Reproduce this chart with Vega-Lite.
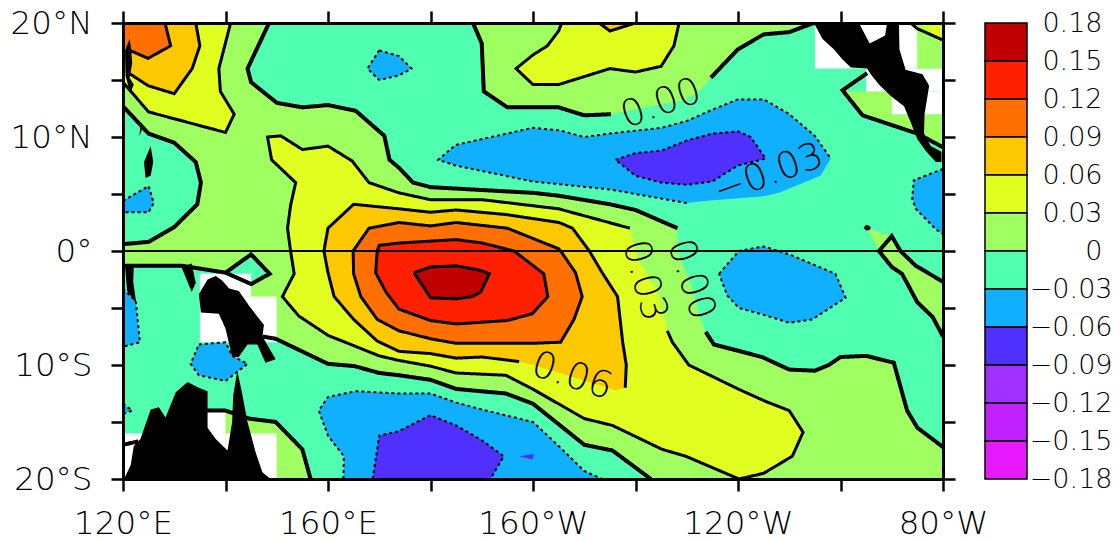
{"$schema":"https://vega.github.io/schema/vega-lite/v6.json","background":"white","padding":{"left":10,"top":7,"right":0,"bottom":0},"bounds":"flush","spacing":42,"config":{"view":{"stroke":null}},
"datasets":{
"regions":[
{"region":"base","band":"-0.03","lon":120,"lat":20},{"region":"base","band":"-0.03","lon":280,"lat":20},{"region":"base","band":"-0.03","lon":280,"lat":-20},{"region":"base","band":"-0.03","lon":120,"lat":-20},
{"region":"bN","band":"-0.06","lon":181.5,"lat":8},{"region":"bN","band":"-0.06","lon":184.9,"lat":9.3},{"region":"bN","band":"-0.06","lon":199.9,"lat":10.8},{"region":"bN","band":"-0.06","lon":205,"lat":10.6},{"region":"bN","band":"-0.06","lon":210,"lat":10},{"region":"bN","band":"-0.06","lon":215,"lat":10.3},{"region":"bN","band":"-0.06","lon":225,"lat":10.8},{"region":"bN","band":"-0.06","lon":230,"lat":11.4},{"region":"bN","band":"-0.06","lon":235,"lat":12.4},{"region":"bN","band":"-0.06","lon":240,"lat":13.3},{"region":"bN","band":"-0.06","lon":245,"lat":13.3},{"region":"bN","band":"-0.06","lon":250,"lat":12},{"region":"bN","band":"-0.06","lon":255,"lat":10.1},{"region":"bN","band":"-0.06","lon":258.1,"lat":8.1},{"region":"bN","band":"-0.06","lon":256.1,"lat":6.6},{"region":"bN","band":"-0.06","lon":248,"lat":5.1},{"region":"bN","band":"-0.06","lon":245,"lat":4.8},{"region":"bN","band":"-0.06","lon":234,"lat":4.4},{"region":"bN","band":"-0.06","lon":230,"lat":4.2},{"region":"bN","band":"-0.06","lon":225,"lat":4.6},{"region":"bN","band":"-0.06","lon":215,"lat":5.4},{"region":"bN","band":"-0.06","lon":199.9,"lat":6.1},{"region":"bN","band":"-0.06","lon":184.9,"lat":7.5},
{"region":"pN","band":"-0.09","lon":216.1,"lat":8},{"region":"pN","band":"-0.09","lon":220,"lat":8.6},{"region":"pN","band":"-0.09","lon":225,"lat":8.8},{"region":"pN","band":"-0.09","lon":230,"lat":9.7},{"region":"pN","band":"-0.09","lon":235,"lat":10.3},{"region":"pN","band":"-0.09","lon":240,"lat":10.5},{"region":"pN","band":"-0.09","lon":242.5,"lat":10},{"region":"pN","band":"-0.09","lon":245.4,"lat":8.1},{"region":"pN","band":"-0.09","lon":240,"lat":7.5},{"region":"pN","band":"-0.09","lon":235,"lat":6.1},{"region":"pN","band":"-0.09","lon":230,"lat":5.8},{"region":"pN","band":"-0.09","lon":225,"lat":6},{"region":"pN","band":"-0.09","lon":220,"lat":6.6},
{"region":"bNW","band":"-0.06","lon":170,"lat":17.6},{"region":"bNW","band":"-0.06","lon":173.85,"lat":17.1},{"region":"bNW","band":"-0.06","lon":176.3,"lat":16},{"region":"bNW","band":"-0.06","lon":173.85,"lat":15.4},{"region":"bNW","band":"-0.06","lon":170,"lat":15},{"region":"bNW","band":"-0.06","lon":167.7,"lat":16},
{"region":"bW","band":"-0.06","lon":120,"lat":4.4},{"region":"bW","band":"-0.06","lon":125,"lat":5.7},{"region":"bW","band":"-0.06","lon":126,"lat":4.2},{"region":"bW","band":"-0.06","lon":125,"lat":3.4},{"region":"bW","band":"-0.06","lon":120,"lat":3.4},
{"region":"bSW","band":"-0.06","lon":120,"lat":-3.3},{"region":"bSW","band":"-0.06","lon":122.5,"lat":-4.4},{"region":"bSW","band":"-0.06","lon":123.3,"lat":-8},{"region":"bSW","band":"-0.06","lon":120,"lat":-8.4},
{"region":"bSW2","band":"-0.06","lon":120,"lat":-13.4},{"region":"bSW2","band":"-0.06","lon":121.8,"lat":-14},{"region":"bSW2","band":"-0.06","lon":120,"lat":-14.3},
{"region":"bS1","band":"-0.06","lon":134.8,"lat":-8.2},{"region":"bS1","band":"-0.06","lon":140,"lat":-8},{"region":"bS1","band":"-0.06","lon":141.3,"lat":-9.2},{"region":"bS1","band":"-0.06","lon":144.3,"lat":-9.9},{"region":"bS1","band":"-0.06","lon":140,"lat":-11.4},{"region":"bS1","band":"-0.06","lon":134.8,"lat":-10.9},{"region":"bS1","band":"-0.06","lon":133.2,"lat":-9.9},
{"region":"bS","band":"-0.06","lon":163,"lat":-20},{"region":"bS","band":"-0.06","lon":163.1,"lat":-18},{"region":"bS","band":"-0.06","lon":160,"lat":-16.2},{"region":"bS","band":"-0.06","lon":158.2,"lat":-14},{"region":"bS","band":"-0.06","lon":160,"lat":-12.8},{"region":"bS","band":"-0.06","lon":165.4,"lat":-12.3},{"region":"bS","band":"-0.06","lon":173.85,"lat":-12.5},{"region":"bS","band":"-0.06","lon":180,"lat":-12.5},{"region":"bS","band":"-0.06","lon":185,"lat":-13.3},{"region":"bS","band":"-0.06","lon":190,"lat":-13.9},{"region":"bS","band":"-0.06","lon":200,"lat":-15},{"region":"bS","band":"-0.06","lon":205,"lat":-17.1},{"region":"bS","band":"-0.06","lon":210,"lat":-19.3},{"region":"bS","band":"-0.06","lon":213.5,"lat":-20},
{"region":"pS","band":"-0.09","lon":168.7,"lat":-20},{"region":"pS","band":"-0.09","lon":170,"lat":-16.2},{"region":"pS","band":"-0.09","lon":173.85,"lat":-15.8},{"region":"pS","band":"-0.09","lon":180,"lat":-14.4},{"region":"pS","band":"-0.09","lon":185,"lat":-15.3},{"region":"pS","band":"-0.09","lon":190,"lat":-16.6},{"region":"pS","band":"-0.09","lon":194.3,"lat":-18},{"region":"pS","band":"-0.09","lon":191.7,"lat":-20},
{"region":"pS2","band":"-0.09","lon":197.3,"lat":-18},{"region":"pS2","band":"-0.09","lon":200.2,"lat":-17.8},{"region":"pS2","band":"-0.09","lon":199.9,"lat":-18.3},
{"region":"bSE","band":"-0.06","lon":236.3,"lat":-2},{"region":"bSE","band":"-0.06","lon":240.2,"lat":0},{"region":"bSE","band":"-0.06","lon":245,"lat":0.4},{"region":"bSE","band":"-0.06","lon":250,"lat":-0.3},{"region":"bSE","band":"-0.06","lon":259,"lat":-2},{"region":"bSE","band":"-0.06","lon":261,"lat":-4.1},{"region":"bSE","band":"-0.06","lon":254.5,"lat":-6},{"region":"bSE","band":"-0.06","lon":250,"lat":-6.3},{"region":"bSE","band":"-0.06","lon":245,"lat":-5.6},{"region":"bSE","band":"-0.06","lon":240.2,"lat":-5},{"region":"bSE","band":"-0.06","lon":237.9,"lat":-3.9},
{"region":"bE","band":"-0.06","lon":280,"lat":7.2},{"region":"bE","band":"-0.06","lon":274.3,"lat":6.2},{"region":"bE","band":"-0.06","lon":274,"lat":4.6},{"region":"bE","band":"-0.06","lon":274.7,"lat":3.7},{"region":"bE","band":"-0.06","lon":278.6,"lat":1.9},{"region":"bE","band":"-0.06","lon":280,"lat":1.5},
{"region":"gMain","band":"0","lon":120,"lat":20},{"region":"gMain","band":"0","lon":148.5,"lat":20},{"region":"gMain","band":"0","lon":144.3,"lat":16},{"region":"gMain","band":"0","lon":145,"lat":14.8},{"region":"gMain","band":"0","lon":150,"lat":13},{"region":"gMain","band":"0","lon":155,"lat":12.6},{"region":"gMain","band":"0","lon":160,"lat":12.8},{"region":"gMain","band":"0","lon":165.4,"lat":12.3},{"region":"gMain","band":"0","lon":171,"lat":10.1},{"region":"gMain","band":"0","lon":172,"lat":8},{"region":"gMain","band":"0","lon":173.85,"lat":7.3},{"region":"gMain","band":"0","lon":176.6,"lat":6},{"region":"gMain","band":"0","lon":180,"lat":5.6},{"region":"gMain","band":"0","lon":200,"lat":5.1},{"region":"gMain","band":"0","lon":205,"lat":4.85},{"region":"gMain","band":"0","lon":215,"lat":4.1},{"region":"gMain","band":"0","lon":220,"lat":3.6},{"region":"gMain","band":"0","lon":228.2,"lat":2},{"region":"gMain","band":"0","lon":228.2,"lat":0},{"region":"gMain","band":"0","lon":231.1,"lat":-3.3},{"region":"gMain","band":"0","lon":232.7,"lat":-6},{"region":"gMain","band":"0","lon":233.7,"lat":-7.1},{"region":"gMain","band":"0","lon":235.3,"lat":-8.2},{"region":"gMain","band":"0","lon":244.7,"lat":-9.3},{"region":"gMain","band":"0","lon":250,"lat":-10.4},{"region":"gMain","band":"0","lon":255,"lat":-10.5},{"region":"gMain","band":"0","lon":257.7,"lat":-10},{"region":"gMain","band":"0","lon":260,"lat":-9.3},{"region":"gMain","band":"0","lon":265,"lat":-9.2},{"region":"gMain","band":"0","lon":270.4,"lat":-9.8},{"region":"gMain","band":"0","lon":273,"lat":-14},{"region":"gMain","band":"0","lon":275,"lat":-15.5},{"region":"gMain","band":"0","lon":280,"lat":-17.2},{"region":"gMain","band":"0","lon":280,"lat":-20},{"region":"gMain","band":"0","lon":223,"lat":-20},{"region":"gMain","band":"0","lon":215.5,"lat":-17.5},{"region":"gMain","band":"0","lon":210,"lat":-17},{"region":"gMain","band":"0","lon":200,"lat":-13.4},{"region":"gMain","band":"0","lon":194.7,"lat":-12.5},{"region":"gMain","band":"0","lon":185,"lat":-12.1},{"region":"gMain","band":"0","lon":180,"lat":-11.3},{"region":"gMain","band":"0","lon":173.85,"lat":-10.9},{"region":"gMain","band":"0","lon":170,"lat":-10.7},{"region":"gMain","band":"0","lon":165.2,"lat":-10.1},{"region":"gMain","band":"0","lon":160,"lat":-9.9},{"region":"gMain","band":"0","lon":149.8,"lat":-7.7},{"region":"gMain","band":"0","lon":147.2,"lat":-7.5},{"region":"gMain","band":"0","lon":144,"lat":-4.5},{"region":"gMain","band":"0","lon":140,"lat":-1.9},{"region":"gMain","band":"0","lon":131.6,"lat":-1.3},{"region":"gMain","band":"0","lon":120,"lat":-1.3},{"region":"gMain","band":"0","lon":120,"lat":0.6},{"region":"gMain","band":"0","lon":125,"lat":0.8},{"region":"gMain","band":"0","lon":130,"lat":2.1},{"region":"gMain","band":"0","lon":134.5,"lat":4.1},{"region":"gMain","band":"0","lon":135.2,"lat":6},{"region":"gMain","band":"0","lon":134.2,"lat":7.8},{"region":"gMain","band":"0","lon":130,"lat":9.5},{"region":"gMain","band":"0","lon":125,"lat":10.3},{"region":"gMain","band":"0","lon":120,"lat":12.7},
{"region":"gN","band":"0","lon":188.3,"lat":20},{"region":"gN","band":"0","lon":190,"lat":18.2},{"region":"gN","band":"0","lon":190.4,"lat":14},{"region":"gN","band":"0","lon":195,"lat":12.6},{"region":"gN","band":"0","lon":205,"lat":12.6},{"region":"gN","band":"0","lon":210,"lat":11.9},{"region":"gN","band":"0","lon":215.2,"lat":12},{"region":"gN","band":"0","lon":229.8,"lat":13.3},{"region":"gN","band":"0","lon":233,"lat":14.2},{"region":"gN","band":"0","lon":234.7,"lat":15.2},{"region":"gN","band":"0","lon":240,"lat":17.7},{"region":"gN","band":"0","lon":245,"lat":19},{"region":"gN","band":"0","lon":250,"lat":19.2},{"region":"gN","band":"0","lon":254.8,"lat":20},
{"region":"gSE","band":"0","lon":267.5,"lat":0},{"region":"gSE","band":"0","lon":265.2,"lat":2},{"region":"gSE","band":"0","lon":270,"lat":1.3},{"region":"gSE","band":"0","lon":271.7,"lat":0},{"region":"gSE","band":"0","lon":274.7,"lat":-1.3},{"region":"gSE","band":"0","lon":280,"lat":-2.7},{"region":"gSE","band":"0","lon":280,"lat":-7.5},{"region":"gSE","band":"0","lon":278,"lat":-5.8},{"region":"gSE","band":"0","lon":275,"lat":-4.5},{"region":"gSE","band":"0","lon":272,"lat":-2},{"region":"gSE","band":"0","lon":270,"lat":-1.4},
{"region":"gSW","band":"0","lon":136.4,"lat":-14},{"region":"gSW","band":"0","lon":140,"lat":-14},{"region":"gSW","band":"0","lon":144.6,"lat":-14.7},{"region":"gSW","band":"0","lon":149.8,"lat":-15},{"region":"gSW","band":"0","lon":155,"lat":-17.4},{"region":"gSW","band":"0","lon":156.6,"lat":-20},{"region":"gSW","band":"0","lon":136,"lat":-20},
{"region":"gMid","band":"0","lon":261,"lat":14},{"region":"gMid","band":"0","lon":270,"lat":14},{"region":"gMid","band":"0","lon":270,"lat":12},{"region":"gMid","band":"0","lon":275,"lat":12},{"region":"gMid","band":"0","lon":275,"lat":10.1},{"region":"gMid","band":"0","lon":264.3,"lat":11.9},{"region":"gMid","band":"0","lon":260.4,"lat":14.1},
{"region":"gMid2","band":"0","lon":276,"lat":12},{"region":"gMid2","band":"0","lon":280,"lat":12},{"region":"gMid2","band":"0","lon":280,"lat":9.1},{"region":"gMid2","band":"0","lon":275,"lat":10.3},
{"region":"teal","band":"-0.03","lon":140,"lat":-1.9},{"region":"teal","band":"-0.03","lon":145,"lat":-0.3},{"region":"teal","band":"-0.03","lon":148.6,"lat":-2},{"region":"teal","band":"-0.03","lon":145,"lat":-2.9},
{"region":"yNW","band":"0.03","lon":141,"lat":20},{"region":"yNW","band":"0.03","lon":138.7,"lat":16},{"region":"yNW","band":"0.03","lon":139,"lat":14},{"region":"yNW","band":"0.03","lon":141.7,"lat":12},{"region":"yNW","band":"0.03","lon":140,"lat":10.4},{"region":"yNW","band":"0.03","lon":125,"lat":12.2},{"region":"yNW","band":"0.03","lon":120,"lat":14.8},{"region":"yNW","band":"0.03","lon":120,"lat":20},
{"region":"yN","band":"0.03","lon":228.5,"lat":20},{"region":"yN","band":"0.03","lon":227.5,"lat":18},{"region":"yN","band":"0.03","lon":225,"lat":16.2},{"region":"yN","band":"0.03","lon":220,"lat":15.7},{"region":"yN","band":"0.03","lon":215,"lat":16},{"region":"yN","band":"0.03","lon":205,"lat":14.6},{"region":"yN","band":"0.03","lon":200,"lat":14.6},{"region":"yN","band":"0.03","lon":196.7,"lat":16},{"region":"yN","band":"0.03","lon":200,"lat":17.2},{"region":"yN","band":"0.03","lon":202.8,"lat":18},{"region":"yN","band":"0.03","lon":205,"lat":19.3},{"region":"yN","band":"0.03","lon":205.6,"lat":20},
{"region":"yC","band":"0.03","lon":148.2,"lat":10},{"region":"yC","band":"0.03","lon":150.8,"lat":10.1},{"region":"yC","band":"0.03","lon":155,"lat":8.9},{"region":"yC","band":"0.03","lon":160,"lat":9.2},{"region":"yC","band":"0.03","lon":164.7,"lat":7.9},{"region":"yC","band":"0.03","lon":168,"lat":6},{"region":"yC","band":"0.03","lon":173.85,"lat":5.1},{"region":"yC","band":"0.03","lon":180,"lat":4.5},{"region":"yC","band":"0.03","lon":190.1,"lat":4.5},{"region":"yC","band":"0.03","lon":205,"lat":3.7},{"region":"yC","band":"0.03","lon":218.9,"lat":2},{"region":"yC","band":"0.03","lon":220,"lat":0},{"region":"yC","band":"0.03","lon":220.4,"lat":-0.7},{"region":"yC","band":"0.03","lon":224.3,"lat":-3.6},{"region":"yC","band":"0.03","lon":226.2,"lat":-7},{"region":"yC","band":"0.03","lon":227.2,"lat":-8},{"region":"yC","band":"0.03","lon":230.4,"lat":-10},{"region":"yC","band":"0.03","lon":240,"lat":-12.1},{"region":"yC","band":"0.03","lon":245.4,"lat":-13.2},{"region":"yC","band":"0.03","lon":250,"lat":-14},{"region":"yC","band":"0.03","lon":252.7,"lat":-15.9},{"region":"yC","band":"0.03","lon":250.6,"lat":-18},{"region":"yC","band":"0.03","lon":245,"lat":-19.5},{"region":"yC","band":"0.03","lon":240.2,"lat":-20},{"region":"yC","band":"0.03","lon":229.8,"lat":-18},{"region":"yC","band":"0.03","lon":225.2,"lat":-17.4},{"region":"yC","band":"0.03","lon":215.5,"lat":-15.3},{"region":"yC","band":"0.03","lon":210,"lat":-14.7},{"region":"yC","band":"0.03","lon":199.9,"lat":-12.1},{"region":"yC","band":"0.03","lon":194.7,"lat":-10.9},{"region":"yC","band":"0.03","lon":185,"lat":-10.7},{"region":"yC","band":"0.03","lon":180,"lat":-10.1},{"region":"yC","band":"0.03","lon":173.85,"lat":-9.6},{"region":"yC","band":"0.03","lon":170,"lat":-9.2},{"region":"yC","band":"0.03","lon":160,"lat":-7.4},{"region":"yC","band":"0.03","lon":154.3,"lat":-5.7},{"region":"yC","band":"0.03","lon":151.1,"lat":-4},{"region":"yC","band":"0.03","lon":153.4,"lat":-2},{"region":"yC","band":"0.03","lon":152.7,"lat":0},{"region":"yC","band":"0.03","lon":152.1,"lat":2},{"region":"yC","band":"0.03","lon":152.7,"lat":4},{"region":"yC","band":"0.03","lon":153.7,"lat":6},{"region":"yC","band":"0.03","lon":149,"lat":8},
{"region":"oNW","band":"0.06","lon":134.2,"lat":20},{"region":"oNW","band":"0.06","lon":135,"lat":18},{"region":"oNW","band":"0.06","lon":133.5,"lat":16},{"region":"oNW","band":"0.06","lon":130,"lat":13.8},{"region":"oNW","band":"0.06","lon":124.9,"lat":14.5},{"region":"oNW","band":"0.06","lon":120.8,"lat":15.7},{"region":"oNW","band":"0.06","lon":120,"lat":16},{"region":"oNW","band":"0.06","lon":120,"lat":20},
{"region":"oN","band":"0.06","lon":212.9,"lat":20},{"region":"oN","band":"0.06","lon":215,"lat":19.3},{"region":"oN","band":"0.06","lon":220,"lat":20},
{"region":"oC","band":"0.06","lon":165,"lat":4.1},{"region":"oC","band":"0.06","lon":173.85,"lat":3.7},{"region":"oC","band":"0.06","lon":180,"lat":3.4},{"region":"oC","band":"0.06","lon":185,"lat":3.6},{"region":"oC","band":"0.06","lon":194.7,"lat":3.2},{"region":"oC","band":"0.06","lon":205.1,"lat":2.5},{"region":"oC","band":"0.06","lon":207.7,"lat":2},{"region":"oC","band":"0.06","lon":211,"lat":0},{"region":"oC","band":"0.06","lon":213.5,"lat":-1.9},{"region":"oC","band":"0.06","lon":216.5,"lat":-4},{"region":"oC","band":"0.06","lon":217.5,"lat":-8},{"region":"oC","band":"0.06","lon":218.2,"lat":-10},{"region":"oC","band":"0.06","lon":218,"lat":-12},{"region":"oC","band":"0.06","lon":216,"lat":-12.2},{"region":"oC","band":"0.06","lon":200,"lat":-10},{"region":"oC","band":"0.06","lon":197.3,"lat":-9.7},{"region":"oC","band":"0.06","lon":190.1,"lat":-9.3},{"region":"oC","band":"0.06","lon":185,"lat":-9.4},{"region":"oC","band":"0.06","lon":180,"lat":-9},{"region":"oC","band":"0.06","lon":173.85,"lat":-8.8},{"region":"oC","band":"0.06","lon":169.6,"lat":-7.9},{"region":"oC","band":"0.06","lon":165,"lat":-6},{"region":"oC","band":"0.06","lon":161.2,"lat":-4},{"region":"oC","band":"0.06","lon":160,"lat":-1.9},{"region":"oC","band":"0.06","lon":159.2,"lat":0},{"region":"oC","band":"0.06","lon":160,"lat":2},
{"region":"rNW","band":"0.09","lon":128.2,"lat":20},{"region":"rNW","band":"0.09","lon":129.3,"lat":18},{"region":"rNW","band":"0.09","lon":124.9,"lat":16.9},{"region":"rNW","band":"0.09","lon":120.8,"lat":17.7},{"region":"rNW","band":"0.09","lon":120,"lat":18},{"region":"rNW","band":"0.09","lon":120,"lat":20},
{"region":"rC","band":"0.09","lon":164.9,"lat":0},{"region":"rC","band":"0.09","lon":168,"lat":2},{"region":"rC","band":"0.09","lon":173.85,"lat":2.5},{"region":"rC","band":"0.09","lon":180,"lat":2.2},{"region":"rC","band":"0.09","lon":185,"lat":2.5},{"region":"rC","band":"0.09","lon":195,"lat":2},{"region":"rC","band":"0.09","lon":205,"lat":0.2},{"region":"rC","band":"0.09","lon":205.4,"lat":0},{"region":"rC","band":"0.09","lon":208.3,"lat":-1.9},{"region":"rC","band":"0.09","lon":209.6,"lat":-4},{"region":"rC","band":"0.09","lon":208,"lat":-6},{"region":"rC","band":"0.09","lon":205.4,"lat":-8},{"region":"rC","band":"0.09","lon":199.9,"lat":-8.1},{"region":"rC","band":"0.09","lon":185,"lat":-8.1},{"region":"rC","band":"0.09","lon":180,"lat":-7.7},{"region":"rC","band":"0.09","lon":173.85,"lat":-7},{"region":"rC","band":"0.09","lon":169.6,"lat":-6},{"region":"rC","band":"0.09","lon":166.4,"lat":-4},{"region":"rC","band":"0.09","lon":165,"lat":-2},
{"region":"sC","band":"0.12","lon":169.6,"lat":0},{"region":"sC","band":"0.12","lon":170,"lat":0.5},{"region":"sC","band":"0.12","lon":173.85,"lat":0.7},{"region":"sC","band":"0.12","lon":185,"lat":1},{"region":"sC","band":"0.12","lon":190.1,"lat":0.7},{"region":"sC","band":"0.12","lon":196.3,"lat":0},{"region":"sC","band":"0.12","lon":202.1,"lat":-2},{"region":"sC","band":"0.12","lon":202.9,"lat":-4},{"region":"sC","band":"0.12","lon":199.9,"lat":-5.5},{"region":"sC","band":"0.12","lon":195,"lat":-6.1},{"region":"sC","band":"0.12","lon":185,"lat":-6.4},{"region":"sC","band":"0.12","lon":180,"lat":-6.1},{"region":"sC","band":"0.12","lon":173.85,"lat":-5.1},{"region":"sC","band":"0.12","lon":171.3,"lat":-3.6},{"region":"sC","band":"0.12","lon":169.3,"lat":-1.9},
{"region":"dC","band":"0.15","lon":176.8,"lat":-1.9},{"region":"dC","band":"0.15","lon":180,"lat":-1.4},{"region":"dC","band":"0.15","lon":185,"lat":-1.3},{"region":"dC","band":"0.15","lon":189.8,"lat":-1.7},{"region":"dC","band":"0.15","lon":191.5,"lat":-2},{"region":"dC","band":"0.15","lon":189.8,"lat":-3.6},{"region":"dC","band":"0.15","lon":188.2,"lat":-4},{"region":"dC","band":"0.15","lon":185,"lat":-4.2},{"region":"dC","band":"0.15","lon":180,"lat":-4.1},
{"region":"w1","band":"missing","lon":255,"lat":20},{"region":"w1","band":"missing","lon":275,"lat":20},{"region":"w1","band":"missing","lon":275,"lat":16},{"region":"w1","band":"missing","lon":255,"lat":16},
{"region":"w2","band":"missing","lon":265,"lat":16},{"region":"w2","band":"missing","lon":280,"lat":16},{"region":"w2","band":"missing","lon":280,"lat":14},{"region":"w2","band":"missing","lon":265,"lat":14},
{"region":"w3","band":"missing","lon":270,"lat":14},{"region":"w3","band":"missing","lon":280,"lat":14},{"region":"w3","band":"missing","lon":280,"lat":12},{"region":"w3","band":"missing","lon":270,"lat":12},
{"region":"g5","band":"0","lon":275,"lat":20},{"region":"g5","band":"0","lon":280,"lat":20},{"region":"g5","band":"0","lon":280,"lat":16},{"region":"g5","band":"0","lon":275,"lat":16},
{"region":"y5","band":"0.03","lon":275,"lat":20},{"region":"y5","band":"0.03","lon":280,"lat":20},{"region":"y5","band":"0.03","lon":280,"lat":18.5},
{"region":"w4","band":"missing","lon":135,"lat":-2},{"region":"w4","band":"missing","lon":145,"lat":-2},{"region":"w4","band":"missing","lon":145,"lat":-4},{"region":"w4","band":"missing","lon":135,"lat":-4},
{"region":"w5","band":"missing","lon":135,"lat":-4},{"region":"w5","band":"missing","lon":150,"lat":-4},{"region":"w5","band":"missing","lon":150,"lat":-8},{"region":"w5","band":"missing","lon":135,"lat":-8},
{"region":"w6","band":"missing","lon":135,"lat":-14},{"region":"w6","band":"missing","lon":140,"lat":-14},{"region":"w6","band":"missing","lon":140,"lat":-20},{"region":"w6","band":"missing","lon":135,"lat":-20},
{"region":"w7","band":"missing","lon":140,"lat":-16},{"region":"w7","band":"missing","lon":150,"lat":-16},{"region":"w7","band":"missing","lon":150,"lat":-20},{"region":"w7","band":"missing","lon":140,"lat":-20},
{"region":"w8","band":"missing","lon":120,"lat":-16},{"region":"w8","band":"missing","lon":125,"lat":-16},{"region":"w8","band":"missing","lon":125,"lat":-20},{"region":"w8","band":"missing","lon":120,"lat":-20},
{"region":"l1","band":"land","lon":254.8,"lat":20},{"region":"l1","band":"land","lon":256.5,"lat":18.6},{"region":"l1","band":"land","lon":258.7,"lat":17.7},{"region":"l1","band":"land","lon":260.4,"lat":16.8},{"region":"l1","band":"land","lon":262,"lat":16.1},{"region":"l1","band":"land","lon":265.2,"lat":16},{"region":"l1","band":"land","lon":265.9,"lat":15.5},{"region":"l1","band":"land","lon":267.5,"lat":14.6},{"region":"l1","band":"land","lon":269.8,"lat":13.6},{"region":"l1","band":"land","lon":272.4,"lat":12.7},{"region":"l1","band":"land","lon":273.7,"lat":11.3},{"region":"l1","band":"land","lon":275,"lat":9.8},{"region":"l1","band":"land","lon":276.6,"lat":8.8},{"region":"l1","band":"land","lon":278.6,"lat":7.8},{"region":"l1","band":"land","lon":279.7,"lat":7.8},{"region":"l1","band":"land","lon":279.7,"lat":8.7},{"region":"l1","band":"land","lon":277.6,"lat":9.2},{"region":"l1","band":"land","lon":276.3,"lat":10.3},{"region":"l1","band":"land","lon":276.4,"lat":12},{"region":"l1","band":"land","lon":277.3,"lat":14.5},{"region":"l1","band":"land","lon":276,"lat":15.5},{"region":"l1","band":"land","lon":272.7,"lat":15.9},{"region":"l1","band":"land","lon":271.5,"lat":17.7},{"region":"l1","band":"land","lon":271.4,"lat":20},{"region":"l1","band":"land","lon":269.1,"lat":20},{"region":"l1","band":"land","lon":268.7,"lat":18.9},{"region":"l1","band":"land","lon":265.7,"lat":18.2},{"region":"l1","band":"land","lon":263.6,"lat":20},
{"region":"l2","band":"land","lon":121.3,"lat":18.6},{"region":"l2","band":"land","lon":120.4,"lat":17.6},{"region":"l2","band":"land","lon":120.5,"lat":15.4},{"region":"l2","band":"land","lon":121.4,"lat":13.8},{"region":"l2","band":"land","lon":122.1,"lat":14.6},{"region":"l2","band":"land","lon":121.3,"lat":15.2},{"region":"l2","band":"land","lon":121.8,"lat":16.5},{"region":"l2","band":"land","lon":121.6,"lat":17.7},
{"region":"l3","band":"land","lon":123.4,"lat":11},{"region":"l3","band":"land","lon":123.2,"lat":10.1},{"region":"l3","band":"land","lon":123.7,"lat":10.6},
{"region":"l4","band":"land","lon":125.4,"lat":9.2},{"region":"l4","band":"land","lon":124.1,"lat":7.8},{"region":"l4","band":"land","lon":124.4,"lat":6.4},{"region":"l4","band":"land","lon":125.4,"lat":6.6},{"region":"l4","band":"land","lon":125.9,"lat":7.8},
{"region":"l5","band":"land","lon":120.4,"lat":-1.3},{"region":"l5","band":"land","lon":122.1,"lat":-1.3},{"region":"l5","band":"land","lon":122,"lat":-2.7},{"region":"l5","band":"land","lon":122.6,"lat":-4.6},{"region":"l5","band":"land","lon":120.8,"lat":-3.5},
{"region":"l6","band":"land","lon":131.4,"lat":-1.4},{"region":"l6","band":"land","lon":133.4,"lat":-1.1},{"region":"l6","band":"land","lon":134.2,"lat":-2.8},{"region":"l6","band":"land","lon":133.4,"lat":-3.6},
{"region":"l7","band":"land","lon":134.8,"lat":-3.8},{"region":"l7","band":"land","lon":136.5,"lat":-2.5},{"region":"l7","band":"land","lon":138.1,"lat":-2.2},{"region":"l7","band":"land","lon":139.4,"lat":-2.6},{"region":"l7","band":"land","lon":140.7,"lat":-3.3},{"region":"l7","band":"land","lon":142.6,"lat":-3.5},{"region":"l7","band":"land","lon":144.6,"lat":-4.8},{"region":"l7","band":"land","lon":147.5,"lat":-6.5},{"region":"l7","band":"land","lon":147.2,"lat":-7.5},{"region":"l7","band":"land","lon":149.8,"lat":-9.5},{"region":"l7","band":"land","lon":147.8,"lat":-9.8},{"region":"l7","band":"land","lon":146.2,"lat":-8.2},{"region":"l7","band":"land","lon":144.3,"lat":-8.2},{"region":"l7","band":"land","lon":142.6,"lat":-9.3},{"region":"l7","band":"land","lon":141.3,"lat":-9.3},{"region":"l7","band":"land","lon":140,"lat":-6.8},{"region":"l7","band":"land","lon":138.7,"lat":-5.5},{"region":"l7","band":"land","lon":135.2,"lat":-5.4},
{"region":"l8","band":"land","lon":120.2,"lat":-20},{"region":"l8","band":"land","lon":121.5,"lat":-18.8},{"region":"l8","band":"land","lon":122.1,"lat":-17.1},{"region":"l8","band":"land","lon":123.4,"lat":-16.5},{"region":"l8","band":"land","lon":125.4,"lat":-13.9},{"region":"l8","band":"land","lon":127,"lat":-13.7},{"region":"l8","band":"land","lon":128.3,"lat":-14.6},{"region":"l8","band":"land","lon":130.3,"lat":-12.4},{"region":"l8","band":"land","lon":132.6,"lat":-11.5},{"region":"l8","band":"land","lon":134.8,"lat":-12},{"region":"l8","band":"land","lon":136.5,"lat":-12.3},{"region":"l8","band":"land","lon":136.5,"lat":-15.5},{"region":"l8","band":"land","lon":138.1,"lat":-16.5},{"region":"l8","band":"land","lon":140.4,"lat":-17.5},{"region":"l8","band":"land","lon":141.3,"lat":-15},{"region":"l8","band":"land","lon":141.5,"lat":-12.7},{"region":"l8","band":"land","lon":142.3,"lat":-10.5},{"region":"l8","band":"land","lon":143.2,"lat":-12.4},{"region":"l8","band":"land","lon":144.3,"lat":-15},{"region":"l8","band":"land","lon":145.9,"lat":-17.7},{"region":"l8","band":"land","lon":147.2,"lat":-19.4},{"region":"l8","band":"land","lon":148.8,"lat":-20},
{"region":"l9","band":"land","lon":264.5,"lat":2.05},{"region":"l9","band":"land","lon":265,"lat":2.3},{"region":"l9","band":"land","lon":265.7,"lat":2.2},{"region":"l9","band":"land","lon":265.9,"lat":2.05},{"region":"l9","band":"land","lon":265.7,"lat":1.85},{"region":"l9","band":"land","lon":265,"lat":1.8}
],
"contours":[
{"line":"t1","kind":"zero","lon":148.5,"lat":20},{"line":"t1","kind":"zero","lon":144.3,"lat":16},{"line":"t1","kind":"zero","lon":145,"lat":14.8},{"line":"t1","kind":"zero","lon":150,"lat":13},{"line":"t1","kind":"zero","lon":155,"lat":12.6},{"line":"t1","kind":"zero","lon":160,"lat":12.8},{"line":"t1","kind":"zero","lon":165.4,"lat":12.3},{"line":"t1","kind":"zero","lon":171,"lat":10.1},{"line":"t1","kind":"zero","lon":172,"lat":8},{"line":"t1","kind":"zero","lon":173.85,"lat":7.3},{"line":"t1","kind":"zero","lon":176.6,"lat":6},{"line":"t1","kind":"zero","lon":180,"lat":5.6},{"line":"t1","kind":"zero","lon":200,"lat":5.1},{"line":"t1","kind":"zero","lon":205,"lat":4.85},{"line":"t1","kind":"zero","lon":215,"lat":4.1},{"line":"t1","kind":"zero","lon":220,"lat":3.6},{"line":"t1","kind":"zero","lon":228.2,"lat":2},
{"line":"t2","kind":"zero","lon":233.7,"lat":-7.1},{"line":"t2","kind":"zero","lon":235.3,"lat":-8.2},{"line":"t2","kind":"zero","lon":244.7,"lat":-9.3},{"line":"t2","kind":"zero","lon":250,"lat":-10.4},{"line":"t2","kind":"zero","lon":255,"lat":-10.5},{"line":"t2","kind":"zero","lon":257.7,"lat":-10},{"line":"t2","kind":"zero","lon":260,"lat":-9.3},{"line":"t2","kind":"zero","lon":265,"lat":-9.2},{"line":"t2","kind":"zero","lon":270.4,"lat":-9.8},{"line":"t2","kind":"zero","lon":273,"lat":-14},{"line":"t2","kind":"zero","lon":275,"lat":-15.5},{"line":"t2","kind":"zero","lon":280,"lat":-17.2},
{"line":"t3","kind":"zero","lon":223,"lat":-20},{"line":"t3","kind":"zero","lon":215.5,"lat":-17.5},{"line":"t3","kind":"zero","lon":210,"lat":-17},{"line":"t3","kind":"zero","lon":200,"lat":-13.4},{"line":"t3","kind":"zero","lon":194.7,"lat":-12.5},{"line":"t3","kind":"zero","lon":185,"lat":-12.1},{"line":"t3","kind":"zero","lon":180,"lat":-11.3},{"line":"t3","kind":"zero","lon":173.85,"lat":-10.9},{"line":"t3","kind":"zero","lon":170,"lat":-10.7},{"line":"t3","kind":"zero","lon":165.2,"lat":-10.1},{"line":"t3","kind":"zero","lon":160,"lat":-9.9},{"line":"t3","kind":"zero","lon":149.8,"lat":-7.7},{"line":"t3","kind":"zero","lon":147.2,"lat":-7.5},
{"line":"t4","kind":"zero","lon":120,"lat":12.7},{"line":"t4","kind":"zero","lon":125,"lat":10.3},{"line":"t4","kind":"zero","lon":130,"lat":9.5},{"line":"t4","kind":"zero","lon":134.2,"lat":7.8},{"line":"t4","kind":"zero","lon":135.2,"lat":6},{"line":"t4","kind":"zero","lon":134.5,"lat":4.1},{"line":"t4","kind":"zero","lon":130,"lat":2.1},{"line":"t4","kind":"zero","lon":125,"lat":0.8},{"line":"t4","kind":"zero","lon":120,"lat":0.6},
{"line":"t5","kind":"zero","lon":120.2,"lat":-1.3},{"line":"t5","kind":"zero","lon":131.6,"lat":-1.3},{"line":"t5","kind":"zero","lon":140,"lat":-1.9},{"line":"t5","kind":"zero","lon":145,"lat":-0.3},{"line":"t5","kind":"zero","lon":148.6,"lat":-2},{"line":"t5","kind":"zero","lon":145,"lat":-2.9},{"line":"t5","kind":"zero","lon":140,"lat":-1.9},
{"line":"t6","kind":"zero","lon":136.4,"lat":-14},{"line":"t6","kind":"zero","lon":140,"lat":-14},{"line":"t6","kind":"zero","lon":144.6,"lat":-14.7},{"line":"t6","kind":"zero","lon":149.8,"lat":-15},{"line":"t6","kind":"zero","lon":155,"lat":-17.4},{"line":"t6","kind":"zero","lon":156.6,"lat":-20},
{"line":"t7","kind":"zero","lon":120,"lat":-17},{"line":"t7","kind":"zero","lon":123,"lat":-16.7},
{"line":"t8","kind":"zero","lon":188.3,"lat":20},{"line":"t8","kind":"zero","lon":190,"lat":18.2},{"line":"t8","kind":"zero","lon":190.4,"lat":14},{"line":"t8","kind":"zero","lon":195,"lat":12.6},{"line":"t8","kind":"zero","lon":205,"lat":12.6},{"line":"t8","kind":"zero","lon":210,"lat":11.9},{"line":"t8","kind":"zero","lon":215.2,"lat":12},
{"line":"t9","kind":"zero","lon":234.7,"lat":15.2},{"line":"t9","kind":"zero","lon":240,"lat":17.7},{"line":"t9","kind":"zero","lon":245,"lat":19},{"line":"t9","kind":"zero","lon":250,"lat":19.2},{"line":"t9","kind":"zero","lon":254.8,"lat":20},
{"line":"t10","kind":"zero","lon":265.2,"lat":15.6},{"line":"t10","kind":"zero","lon":260.4,"lat":14.1},{"line":"t10","kind":"zero","lon":264.3,"lat":11.9},{"line":"t10","kind":"zero","lon":275,"lat":10.3},{"line":"t10","kind":"zero","lon":280,"lat":9.1},
{"line":"t11","kind":"zero","lon":267.5,"lat":0},{"line":"t11","kind":"zero","lon":270,"lat":1.3},{"line":"t11","kind":"zero","lon":271.7,"lat":0},{"line":"t11","kind":"zero","lon":274.7,"lat":-1.3},{"line":"t11","kind":"zero","lon":280,"lat":-2.7},
{"line":"t12","kind":"zero","lon":267.5,"lat":0},{"line":"t12","kind":"zero","lon":270,"lat":-1.4},{"line":"t12","kind":"zero","lon":272,"lat":-2},{"line":"t12","kind":"zero","lon":275,"lat":-4.5},{"line":"t12","kind":"zero","lon":278,"lat":-5.8},{"line":"t12","kind":"zero","lon":280,"lat":-7.5},
{"line":"p1","kind":"pos","lon":141,"lat":20},{"line":"p1","kind":"pos","lon":138.7,"lat":16},{"line":"p1","kind":"pos","lon":139,"lat":14},{"line":"p1","kind":"pos","lon":141.7,"lat":12},{"line":"p1","kind":"pos","lon":140,"lat":10.4},{"line":"p1","kind":"pos","lon":125,"lat":12.2},{"line":"p1","kind":"pos","lon":120,"lat":14.8},
{"line":"p2","kind":"pos","lon":134.2,"lat":20},{"line":"p2","kind":"pos","lon":135,"lat":18},{"line":"p2","kind":"pos","lon":133.5,"lat":16},{"line":"p2","kind":"pos","lon":130,"lat":13.8},{"line":"p2","kind":"pos","lon":124.9,"lat":14.5},{"line":"p2","kind":"pos","lon":120.8,"lat":15.7},
{"line":"p3","kind":"pos","lon":128.2,"lat":20},{"line":"p3","kind":"pos","lon":129.3,"lat":18},{"line":"p3","kind":"pos","lon":124.9,"lat":16.9},{"line":"p3","kind":"pos","lon":120.8,"lat":17.7},
{"line":"p4","kind":"pos","lon":228.5,"lat":20},{"line":"p4","kind":"pos","lon":227.5,"lat":18},{"line":"p4","kind":"pos","lon":225,"lat":16.2},{"line":"p4","kind":"pos","lon":220,"lat":15.7},{"line":"p4","kind":"pos","lon":215,"lat":16},{"line":"p4","kind":"pos","lon":205,"lat":14.6},{"line":"p4","kind":"pos","lon":200,"lat":14.6},{"line":"p4","kind":"pos","lon":196.7,"lat":16},{"line":"p4","kind":"pos","lon":200,"lat":17.2},{"line":"p4","kind":"pos","lon":202.8,"lat":18},{"line":"p4","kind":"pos","lon":205,"lat":19.3},{"line":"p4","kind":"pos","lon":205.6,"lat":20},
{"line":"p5","kind":"pos","lon":212.9,"lat":20},{"line":"p5","kind":"pos","lon":215,"lat":19.3},{"line":"p5","kind":"pos","lon":220,"lat":20},
{"line":"p6","kind":"pos","lon":218.9,"lat":2},{"line":"p6","kind":"pos","lon":205,"lat":3.7},{"line":"p6","kind":"pos","lon":190.1,"lat":4.5},{"line":"p6","kind":"pos","lon":180,"lat":4.5},{"line":"p6","kind":"pos","lon":173.85,"lat":5.1},{"line":"p6","kind":"pos","lon":168,"lat":6},{"line":"p6","kind":"pos","lon":164.7,"lat":7.9},{"line":"p6","kind":"pos","lon":160,"lat":9.2},{"line":"p6","kind":"pos","lon":155,"lat":8.9},{"line":"p6","kind":"pos","lon":150.8,"lat":10.1},{"line":"p6","kind":"pos","lon":148.2,"lat":10},{"line":"p6","kind":"pos","lon":149,"lat":8},{"line":"p6","kind":"pos","lon":153.7,"lat":6},{"line":"p6","kind":"pos","lon":152.7,"lat":4},{"line":"p6","kind":"pos","lon":152.1,"lat":2},{"line":"p6","kind":"pos","lon":152.7,"lat":0},{"line":"p6","kind":"pos","lon":153.4,"lat":-2},{"line":"p6","kind":"pos","lon":151.1,"lat":-4},{"line":"p6","kind":"pos","lon":154.3,"lat":-5.7},{"line":"p6","kind":"pos","lon":160,"lat":-7.4},{"line":"p6","kind":"pos","lon":170,"lat":-9.2},{"line":"p6","kind":"pos","lon":173.85,"lat":-9.6},{"line":"p6","kind":"pos","lon":180,"lat":-10.1},{"line":"p6","kind":"pos","lon":185,"lat":-10.7},{"line":"p6","kind":"pos","lon":194.7,"lat":-10.9},{"line":"p6","kind":"pos","lon":199.9,"lat":-12.1},{"line":"p6","kind":"pos","lon":210,"lat":-14.7},{"line":"p6","kind":"pos","lon":215.5,"lat":-15.3},{"line":"p6","kind":"pos","lon":225.2,"lat":-17.4},{"line":"p6","kind":"pos","lon":229.8,"lat":-18},{"line":"p6","kind":"pos","lon":240.2,"lat":-20},{"line":"p6","kind":"pos","lon":245,"lat":-19.5},{"line":"p6","kind":"pos","lon":250.6,"lat":-18},{"line":"p6","kind":"pos","lon":252.7,"lat":-15.9},{"line":"p6","kind":"pos","lon":250,"lat":-14},{"line":"p6","kind":"pos","lon":245.4,"lat":-13.2},{"line":"p6","kind":"pos","lon":240,"lat":-12.1},{"line":"p6","kind":"pos","lon":230.4,"lat":-10},{"line":"p6","kind":"pos","lon":227.2,"lat":-8},{"line":"p6","kind":"pos","lon":226.2,"lat":-7},
{"line":"p7","kind":"pos","lon":218,"lat":-12},{"line":"p7","kind":"pos","lon":218.2,"lat":-10},{"line":"p7","kind":"pos","lon":217.5,"lat":-8},{"line":"p7","kind":"pos","lon":216.5,"lat":-4},{"line":"p7","kind":"pos","lon":213.5,"lat":-1.9},{"line":"p7","kind":"pos","lon":211,"lat":0},{"line":"p7","kind":"pos","lon":207.7,"lat":2},{"line":"p7","kind":"pos","lon":205.1,"lat":2.5},{"line":"p7","kind":"pos","lon":194.7,"lat":3.2},{"line":"p7","kind":"pos","lon":185,"lat":3.6},{"line":"p7","kind":"pos","lon":180,"lat":3.4},{"line":"p7","kind":"pos","lon":173.85,"lat":3.7},{"line":"p7","kind":"pos","lon":165,"lat":4.1},{"line":"p7","kind":"pos","lon":160,"lat":2},{"line":"p7","kind":"pos","lon":159.2,"lat":0},{"line":"p7","kind":"pos","lon":160,"lat":-1.9},{"line":"p7","kind":"pos","lon":161.2,"lat":-4},{"line":"p7","kind":"pos","lon":165,"lat":-6},{"line":"p7","kind":"pos","lon":169.6,"lat":-7.9},{"line":"p7","kind":"pos","lon":173.85,"lat":-8.8},{"line":"p7","kind":"pos","lon":180,"lat":-9},{"line":"p7","kind":"pos","lon":185,"lat":-9.4},{"line":"p7","kind":"pos","lon":190.1,"lat":-9.3},{"line":"p7","kind":"pos","lon":197.3,"lat":-9.7},
{"line":"p8","kind":"pos","lon":164.9,"lat":0},{"line":"p8","kind":"pos","lon":168,"lat":2},{"line":"p8","kind":"pos","lon":173.85,"lat":2.5},{"line":"p8","kind":"pos","lon":180,"lat":2.2},{"line":"p8","kind":"pos","lon":185,"lat":2.5},{"line":"p8","kind":"pos","lon":195,"lat":2},{"line":"p8","kind":"pos","lon":205,"lat":0.2},{"line":"p8","kind":"pos","lon":205.4,"lat":0},{"line":"p8","kind":"pos","lon":208.3,"lat":-1.9},{"line":"p8","kind":"pos","lon":209.6,"lat":-4},{"line":"p8","kind":"pos","lon":208,"lat":-6},{"line":"p8","kind":"pos","lon":205.4,"lat":-8},{"line":"p8","kind":"pos","lon":199.9,"lat":-8.1},{"line":"p8","kind":"pos","lon":185,"lat":-8.1},{"line":"p8","kind":"pos","lon":180,"lat":-7.7},{"line":"p8","kind":"pos","lon":173.85,"lat":-7},{"line":"p8","kind":"pos","lon":169.6,"lat":-6},{"line":"p8","kind":"pos","lon":166.4,"lat":-4},{"line":"p8","kind":"pos","lon":165,"lat":-2},{"line":"p8","kind":"pos","lon":164.9,"lat":0},
{"line":"p9","kind":"pos","lon":169.6,"lat":0},{"line":"p9","kind":"pos","lon":170,"lat":0.5},{"line":"p9","kind":"pos","lon":173.85,"lat":0.7},{"line":"p9","kind":"pos","lon":185,"lat":1},{"line":"p9","kind":"pos","lon":190.1,"lat":0.7},{"line":"p9","kind":"pos","lon":196.3,"lat":0},{"line":"p9","kind":"pos","lon":202.1,"lat":-2},{"line":"p9","kind":"pos","lon":202.9,"lat":-4},{"line":"p9","kind":"pos","lon":199.9,"lat":-5.5},{"line":"p9","kind":"pos","lon":195,"lat":-6.1},{"line":"p9","kind":"pos","lon":185,"lat":-6.4},{"line":"p9","kind":"pos","lon":180,"lat":-6.1},{"line":"p9","kind":"pos","lon":173.85,"lat":-5.1},{"line":"p9","kind":"pos","lon":171.3,"lat":-3.6},{"line":"p9","kind":"pos","lon":169.3,"lat":-1.9},{"line":"p9","kind":"pos","lon":169.6,"lat":0},
{"line":"p10","kind":"pos","lon":176.8,"lat":-1.9},{"line":"p10","kind":"pos","lon":180,"lat":-1.4},{"line":"p10","kind":"pos","lon":185,"lat":-1.3},{"line":"p10","kind":"pos","lon":189.8,"lat":-1.7},{"line":"p10","kind":"pos","lon":191.5,"lat":-2},{"line":"p10","kind":"pos","lon":189.8,"lat":-3.6},{"line":"p10","kind":"pos","lon":188.2,"lat":-4},{"line":"p10","kind":"pos","lon":185,"lat":-4.2},{"line":"p10","kind":"pos","lon":180,"lat":-4.1},{"line":"p10","kind":"pos","lon":176.8,"lat":-1.9},
{"line":"p11","kind":"pos","lon":273.7,"lat":20},{"line":"p11","kind":"pos","lon":275,"lat":19.5},{"line":"p11","kind":"pos","lon":280,"lat":18.5},
{"line":"n1","kind":"neg","lon":230,"lat":4.2},{"line":"n1","kind":"neg","lon":225,"lat":4.6},{"line":"n1","kind":"neg","lon":215,"lat":5.4},{"line":"n1","kind":"neg","lon":199.9,"lat":6.1},{"line":"n1","kind":"neg","lon":184.9,"lat":7.5},{"line":"n1","kind":"neg","lon":181.5,"lat":8},{"line":"n1","kind":"neg","lon":184.9,"lat":9.3},{"line":"n1","kind":"neg","lon":199.9,"lat":10.8},{"line":"n1","kind":"neg","lon":205,"lat":10.6},{"line":"n1","kind":"neg","lon":210,"lat":10},{"line":"n1","kind":"neg","lon":215,"lat":10.3},{"line":"n1","kind":"neg","lon":225,"lat":10.8},{"line":"n1","kind":"neg","lon":230,"lat":11.4},{"line":"n1","kind":"neg","lon":235,"lat":12.4},{"line":"n1","kind":"neg","lon":240,"lat":13.3},{"line":"n1","kind":"neg","lon":245,"lat":13.3},{"line":"n1","kind":"neg","lon":250,"lat":12},{"line":"n1","kind":"neg","lon":255,"lat":10.1},{"line":"n1","kind":"neg","lon":258.1,"lat":8.1},
{"line":"n2","kind":"neg","lon":216.1,"lat":8},{"line":"n2","kind":"neg","lon":220,"lat":8.6},{"line":"n2","kind":"neg","lon":225,"lat":8.8},{"line":"n2","kind":"neg","lon":230,"lat":9.7},{"line":"n2","kind":"neg","lon":235,"lat":10.3},{"line":"n2","kind":"neg","lon":240,"lat":10.5},{"line":"n2","kind":"neg","lon":242.5,"lat":10},{"line":"n2","kind":"neg","lon":245.4,"lat":8.1},{"line":"n2","kind":"neg","lon":240,"lat":7.5},{"line":"n2","kind":"neg","lon":235,"lat":6.1},{"line":"n2","kind":"neg","lon":230,"lat":5.8},{"line":"n2","kind":"neg","lon":225,"lat":6},{"line":"n2","kind":"neg","lon":220,"lat":6.6},{"line":"n2","kind":"neg","lon":216.1,"lat":8},
{"line":"n3","kind":"neg","lon":170,"lat":17.6},{"line":"n3","kind":"neg","lon":173.85,"lat":17.1},{"line":"n3","kind":"neg","lon":176.3,"lat":16},{"line":"n3","kind":"neg","lon":173.85,"lat":15.4},{"line":"n3","kind":"neg","lon":170,"lat":15},{"line":"n3","kind":"neg","lon":167.7,"lat":16},{"line":"n3","kind":"neg","lon":170,"lat":17.6},
{"line":"n4","kind":"neg","lon":120,"lat":4.4},{"line":"n4","kind":"neg","lon":125,"lat":5.7},{"line":"n4","kind":"neg","lon":126,"lat":4.2},{"line":"n4","kind":"neg","lon":125,"lat":3.4},{"line":"n4","kind":"neg","lon":120,"lat":3.4},
{"line":"n5","kind":"neg","lon":120,"lat":-3.3},{"line":"n5","kind":"neg","lon":122.5,"lat":-4.4},{"line":"n5","kind":"neg","lon":123.3,"lat":-8},{"line":"n5","kind":"neg","lon":120,"lat":-8.4},
{"line":"n6","kind":"neg","lon":120,"lat":-13.4},{"line":"n6","kind":"neg","lon":121.8,"lat":-14},{"line":"n6","kind":"neg","lon":120,"lat":-14.3},
{"line":"n7","kind":"neg","lon":134.8,"lat":-8.2},{"line":"n7","kind":"neg","lon":140,"lat":-8},{"line":"n7","kind":"neg","lon":141.3,"lat":-9.2},{"line":"n7","kind":"neg","lon":144.3,"lat":-9.9},{"line":"n7","kind":"neg","lon":140,"lat":-11.4},{"line":"n7","kind":"neg","lon":134.8,"lat":-10.9},{"line":"n7","kind":"neg","lon":133.2,"lat":-9.9},{"line":"n7","kind":"neg","lon":134.8,"lat":-8.2},
{"line":"n8","kind":"neg","lon":163,"lat":-20},{"line":"n8","kind":"neg","lon":163.1,"lat":-18},{"line":"n8","kind":"neg","lon":160,"lat":-16.2},{"line":"n8","kind":"neg","lon":158.2,"lat":-14},{"line":"n8","kind":"neg","lon":160,"lat":-12.8},{"line":"n8","kind":"neg","lon":165.4,"lat":-12.3},{"line":"n8","kind":"neg","lon":173.85,"lat":-12.5},{"line":"n8","kind":"neg","lon":180,"lat":-12.5},{"line":"n8","kind":"neg","lon":185,"lat":-13.3},{"line":"n8","kind":"neg","lon":190,"lat":-13.9},{"line":"n8","kind":"neg","lon":200,"lat":-15},{"line":"n8","kind":"neg","lon":205,"lat":-17.1},{"line":"n8","kind":"neg","lon":210,"lat":-19.3},{"line":"n8","kind":"neg","lon":213.5,"lat":-20},
{"line":"n9","kind":"neg","lon":168.7,"lat":-20},{"line":"n9","kind":"neg","lon":170,"lat":-16.2},{"line":"n9","kind":"neg","lon":173.85,"lat":-15.8},{"line":"n9","kind":"neg","lon":180,"lat":-14.4},{"line":"n9","kind":"neg","lon":185,"lat":-15.3},{"line":"n9","kind":"neg","lon":190,"lat":-16.6},{"line":"n9","kind":"neg","lon":194.3,"lat":-18},{"line":"n9","kind":"neg","lon":191.7,"lat":-20},
{"line":"n10","kind":"neg","lon":236.3,"lat":-2},{"line":"n10","kind":"neg","lon":240.2,"lat":0},{"line":"n10","kind":"neg","lon":245,"lat":0.4},{"line":"n10","kind":"neg","lon":250,"lat":-0.3},{"line":"n10","kind":"neg","lon":259,"lat":-2},{"line":"n10","kind":"neg","lon":261,"lat":-4.1},{"line":"n10","kind":"neg","lon":254.5,"lat":-6},{"line":"n10","kind":"neg","lon":250,"lat":-6.3},{"line":"n10","kind":"neg","lon":245,"lat":-5.6},{"line":"n10","kind":"neg","lon":240.2,"lat":-5},{"line":"n10","kind":"neg","lon":237.9,"lat":-3.9},{"line":"n10","kind":"neg","lon":236.3,"lat":-2},
{"line":"n11","kind":"neg","lon":280,"lat":7.2},{"line":"n11","kind":"neg","lon":274.3,"lat":6.2},{"line":"n11","kind":"neg","lon":274,"lat":4.6},{"line":"n11","kind":"neg","lon":274.7,"lat":3.7},{"line":"n11","kind":"neg","lon":278.6,"lat":1.9},{"line":"n11","kind":"neg","lon":280,"lat":1.5}
],
"contourLabels":[
{"text":"0.00","lon":225,"lat":12.9,"angle":-20},
{"text":"−0.03","lon":246,"lat":6.75,"angle":-20},
{"text":"0.00","lon":230.8,"lat":-2.5,"angle":72},
{"text":"0.03","lon":221.7,"lat":-2.6,"angle":75},
{"text":"0.06","lon":207.6,"lat":-11,"angle":18}
],
"bar":[
{"band":"0.15","low":0.15,"high":0.18},{"band":"0.12","low":0.12,"high":0.15},{"band":"0.09","low":0.09,"high":0.12},{"band":"0.06","low":0.06,"high":0.09},{"band":"0.03","low":0.03,"high":0.06},{"band":"0","low":0,"high":0.03},{"band":"-0.03","low":-0.03,"high":0},{"band":"-0.06","low":-0.06,"high":-0.03},{"band":"-0.09","low":-0.09,"high":-0.06},{"band":"-0.12","low":-0.12,"high":-0.09},{"band":"-0.15","low":-0.15,"high":-0.12},{"band":"-0.18","low":-0.18,"high":-0.15}
]
},
"hconcat":[
{"width":820,"height":456,"resolve":{"axis":{"x":"independent","y":"independent"}},
"layer":[
{"data":{"name":"regions"},"mark":{"type":"line","interpolate":"linear-closed","strokeWidth":0,"clip":true},
"encoding":{
"x":{"field":"lon","type":"quantitative","scale":{"domain":[120,280],"nice":false,"zero":false},"axis":{"orient":"bottom","title":null,"values":[120,140,160,180,200,220,240,260,280],"tickSize":12,"tickWidth":2.5,"tickColor":"#000","domainColor":"#000","domainWidth":3,"labelFont":"DejaVu Sans","labelFontWeight":200,"labelFontSize":32.5,"labelColor":"#000","labelPadding":16,"labelFlush":false,"labelOverlap":false,"labelBound":false,"grid":false,"zindex":1,"labelExpr":"datum.value==120?'120°E':datum.value==160?'160°E':datum.value==200?'160°W':datum.value==240?'120°W':datum.value==280?'80°W':''"}},
"y":{"field":"lat","type":"quantitative","scale":{"domain":[-20,20],"nice":false,"zero":false},"axis":{"orient":"left","title":null,"values":[-20,-15,-10,-5,0,5,10,15,20],"tickSize":12,"tickWidth":2.5,"tickColor":"#000","domainColor":"#000","domainWidth":3,"labelFont":"DejaVu Sans","labelFontWeight":200,"labelFontSize":32.5,"labelColor":"#000","labelPadding":19,"labelFlush":false,"labelOverlap":false,"labelBound":false,"grid":false,"zindex":1,"labelExpr":"datum.value==20?'20°N':datum.value==10?'10°N':datum.value==0?'0°':datum.value==-10?'10°S':datum.value==-20?'20°S':''"}},
"fill":{"field":"band","type":"nominal","legend":null,"scale":{"domain":["0.15","0.12","0.09","0.06","0.03","0","-0.03","-0.06","-0.09","-0.12","-0.15","-0.18","missing","land"],"range":["#c00000","#ff2000","#ff7000","#fcc800","#e0ff20","#a0ff60","#50ffb0","#10b0ff","#5030ff","#a030ff","#c020ff","#e818ff","#ffffff","#000000"]}},
"detail":{"field":"region"},
"order":{"value":null}
}},
{"data":{"name":"contours"},"mark":{"type":"line","clip":true,"color":"#000"},
"encoding":{
"x":{"field":"lon","type":"quantitative","scale":{"domain":[120,280],"nice":false,"zero":false},"axis":{"orient":"top","title":null,"values":[120,140,160,180,200,220,240,260,280],"tickSize":12,"tickWidth":2.5,"tickColor":"#000","domainColor":"#000","domainWidth":3,"labels":false,"grid":false,"zindex":1}},
"y":{"field":"lat","type":"quantitative","scale":{"domain":[-20,20],"nice":false,"zero":false},"axis":{"orient":"right","title":null,"values":[-20,-15,-10,-5,0,5,10,15,20],"tickSize":12,"tickWidth":2.5,"tickColor":"#000","domainColor":"#000","domainWidth":3,"labels":false,"grid":false,"zindex":1}},
"detail":{"field":"line"},
"strokeWidth":{"field":"kind","type":"nominal","legend":null,"scale":{"domain":["zero","pos","neg"],"range":[4,2,2]}},
"strokeDash":{"field":"kind","type":"nominal","legend":null,"scale":{"domain":["zero","pos","neg"],"range":[[1,0],[1,0],[3,3]]}},
"order":{"value":null}
}},
{"data":{"values":[{"lat":0}]},"mark":{"type":"rule","color":"#000","strokeWidth":2},"encoding":{"y":{"field":"lat","type":"quantitative","scale":{"domain":[-20,20],"nice":false,"zero":false},"axis":null}}},
{"data":{"name":"contourLabels"},"mark":{"type":"text","font":"DejaVu Sans","fontWeight":200,"fontSize":37,"color":"#000","align":"center","baseline":"middle"},
"encoding":{
"x":{"field":"lon","type":"quantitative","scale":{"domain":[120,280],"nice":false,"zero":false},"axis":null},
"y":{"field":"lat","type":"quantitative","scale":{"domain":[-20,20],"nice":false,"zero":false},"axis":null},
"text":{"field":"text"},
"angle":{"field":"angle","type":"quantitative","scale":null}
}}
]},
{"width":42,"height":456,"data":{"name":"bar"},"mark":{"type":"rect","stroke":"#000","strokeWidth":1.5},
"encoding":{
"y":{"field":"low","type":"quantitative","scale":{"domain":[-0.18,0.18],"nice":false,"zero":false},"axis":{"orient":"right","title":null,"values":[-0.18,-0.15,-0.12,-0.09,-0.06,-0.03,0,0.03,0.06,0.09,0.12,0.15,0.18],"ticks":false,"domain":false,"grid":false,"labelFont":"DejaVu Sans","labelFontWeight":200,"labelFontSize":27,"labelColor":"#000","labelAlign":"right","labelBaseline":"middle","labelOverlap":false,"labelFlush":false,"labelBound":false,"labelPadding":{"condition":{"test":"datum.value<0","value":85},"value":75},"labelExpr":"datum.value==0?'0':format(datum.value,'.2f')"}},
"y2":{"field":"high"},
"fill":{"field":"band","type":"nominal","legend":null,"scale":{"domain":["0.15","0.12","0.09","0.06","0.03","0","-0.03","-0.06","-0.09","-0.12","-0.15","-0.18"],"range":["#c00000","#ff2000","#ff7000","#fcc800","#e0ff20","#a0ff60","#50ffb0","#10b0ff","#5030ff","#a030ff","#c020ff","#e818ff"]}}
}}
]}
